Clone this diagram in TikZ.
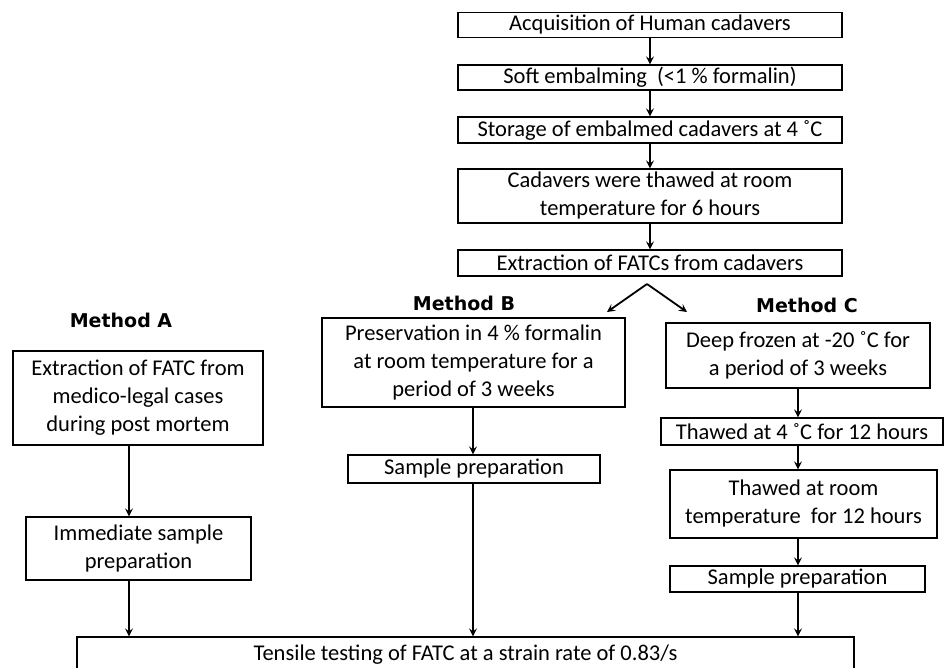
\documentclass[tikz,border=0pt]{standalone}
\usepackage{fontspec}
\setmainfont{Carlito}
\newfontfamily\labfont{DejaVu Sans}
\usetikzlibrary{arrows.meta,calc}
\begin{document}
\begin{tikzpicture}[x=1pt,y=-1pt,
  box/.style={draw,line width=1.2pt,inner sep=0pt,align=center,
    font=\fontsize{22.5}{28}\selectfont},
  methlab/.style={inner sep=0pt,font=\labfont\bfseries\fontsize{19}{22}\selectfont},
  arr/.style={line width=1.8pt,-{Stealth[length=8pt,width=8pt,inset=3pt]}}]
\useasboundingbox (0,0) rectangle (946,668);
\clip (0,0) rectangle (946,668);
\fill[white] (0,0) rectangle (946,668);
% top column
\node[box,minimum width=384pt,minimum height=25pt] (b1) at (650,25) {Acquisition of Human cadavers};
\node[box,minimum width=384pt,minimum height=25pt] (b2) at (650,77.5) {Soft embalming\ \ (<1 \% formalin)};
\node[box,minimum width=384pt,minimum height=26pt] (b3) at (650,130) {Storage of embalmed cadavers at 4 ˚C};
\node[box,minimum width=384pt,minimum height=54pt] (b4) at (650,196) {Cadavers were thawed at room\\temperature for 6 hours};
\node[box,minimum width=384pt,minimum height=26pt] (b5) at (650,263) {Extraction of FATCs from cadavers};
\draw[arr] (b1) -- (b2);
\draw[arr] (b2) -- (b3);
\draw[arr] (b3) -- (b4);
\draw[arr] (b4) -- (b5);
\coordinate (apex) at (647,284);
\coordinate (tipL) at (607,312);
\coordinate (tipR) at (687,312);
\draw[arr] (apex) -- (tipL);
\draw[arr] (apex) -- (tipR);
% method A
\node[methlab] (labA) at (121,320) {Method A};
\node[box,minimum width=250pt,minimum height=94pt] (a1) at (138,398) {Extraction of FATC from\\medico-legal cases\\during post mortem};
\node[box,minimum width=225pt,minimum height=63pt] (a2) at (138.5,548.5) {Immediate sample\\preparation};
% tensile
\node[box,minimum width=777pt,minimum height=35pt] (t) at (465.5,654.5) {Tensile testing of FATC at a strain rate of 0.83/s};
\coordinate (xA) at (129,0);
\draw[arr] (a1.south -| xA) -- (a2.north -| xA);
\draw[arr] (a2.south -| xA) -- (t.north -| xA);
% method B
\node[methlab] (labB) at (464,303) {Method B};
\node[box,minimum width=303pt,minimum height=89pt] (bb1) at (473.5,362.5) {Preservation in 4 \% formalin\\at room temperature for a\\period of 3 weeks};
\node[box,minimum width=252pt,minimum height=28pt] (bb2) at (474,469) {Sample preparation};
\coordinate (xB) at (473,0);
\draw[arr] (bb1.south -| xB) -- (bb2.north -| xB);
\draw[arr] (bb2.south -| xB) -- (t.north -| xB);
% method C
\node[methlab] (labC) at (807,305) {Method C};
\node[box,minimum width=264pt,minimum height=65pt] (c1) at (798,355.5) {Deep frozen at -20 ˚C for\\a period of 3 weeks};
\node[box,minimum width=282pt,minimum height=27pt] (c2) at (802,431.5) {Thawed at 4 ˚C for 12 hours};
\node[box,minimum width=267pt,minimum height=68pt] (c3) at (803.5,504) {Thawed at room\\temperature\ \ for 12 hours};
\node[box,minimum width=255pt,minimum height=26pt] (c4) at (797.5,579) {Sample preparation};
\coordinate (xC) at (798,0);
\draw[arr] (c1.south -| xC) -- (c2.north -| xC);
\draw[arr] (c2.south -| xC) -- (c3.north -| xC);
\draw[arr] (c3.south -| xC) -- (c4.north -| xC);
\draw[arr] (c4.south -| xC) -- (t.north -| xC);
\end{tikzpicture}
\end{document}
